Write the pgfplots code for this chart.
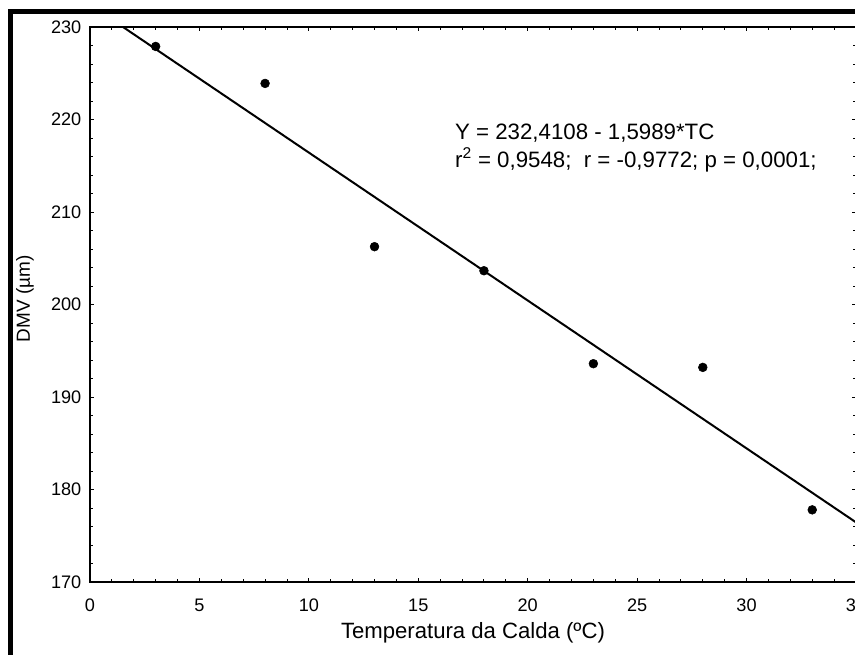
\documentclass[border=0pt]{standalone}
\usepackage{fontspec}
\setmainfont{Liberation Sans}
\usepackage{pgfplots}
\pgfplotsset{compat=1.18}
\begin{document}
\begin{tikzpicture}
\useasboundingbox (0,0) rectangle (641.25pt,491.25pt);
\clip (0,0) rectangle (641.25pt,491.25pt);
\fill[white] (0,0) rectangle (641.25pt,491.25pt);
\draw[line width=3.75pt] (8.1pt,-10pt) -- (8.1pt,482.5pt) -- (660pt,482.5pt);
\begin{axis}[
  at={(67.5pt,54.75pt)}, anchor=south west,
  scale only axis, width=574.5pt, height=416.25pt,
  xmin=0, xmax=35, ymin=170, ymax=230,
  xtick={0,5,...,35}, ytick={170,180,...,230},
  minor x tick num=4, minor y tick num=4,
  tick align=inside, major tick length=3pt, minor tick length=2.5pt,
  axis line style={line width=0.9pt},
  every tick/.style={black, line width=0.7pt},
  /pgf/number format/assume math mode=true,
  tick label style={font=\fontsize{13.6}{15}\selectfont},
  xticklabel style={yshift=-9pt},
  yticklabel style={xshift=-3pt},
  xlabel={Temperatura da Calda (ºC)},
  ylabel={DMV (µm)},
  xlabel style={font=\fontsize{16.6}{18}\selectfont, at={(axis description cs:0.5,0)}, anchor=center, yshift=-38pt},
  ylabel style={font=\fontsize{14.2}{16}\selectfont, at={(axis description cs:0,0.51)}, anchor=center, yshift=48.75pt},
  clip=true,
]
\addplot[black, line width=1.5pt, no marks] coordinates {(0,232.4108) (35,176.4493)};
\addplot[only marks, mark=*, mark size=3.3pt, black] coordinates {
(3,227.9) (8,223.9) (13,206.25) (18,203.65) (23,193.6) (28,193.2) (33,177.8)
};
\node[anchor=north west, inner sep=0pt, align=left, font=\fontsize{16.7}{20.5}\selectfont] at (axis cs:16.67,219.5)
{Y = 232,4108 - 1,5989*TC\\r\textsuperscript{2} = 0,9548;\ \ r = -0,9772; p = 0,0001;};
\end{axis}
\end{tikzpicture}
\end{document}
